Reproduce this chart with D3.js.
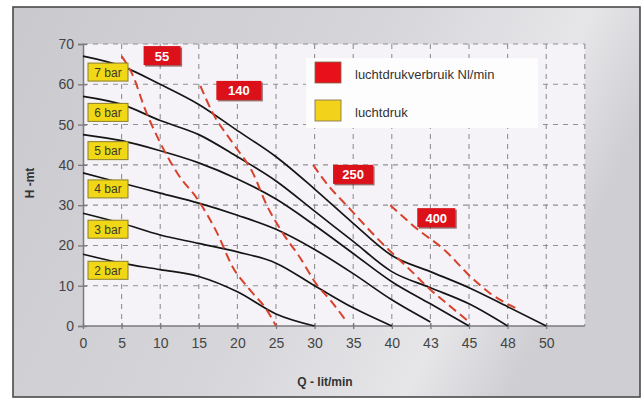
<!DOCTYPE html>
<html>
<head>
<meta charset="utf-8">
<script src="https://cdn.jsdelivr.net/npm/d3@7"></script>
<style>
  body { margin: 0; background: #fff; }
  svg { display: block; font-family: "Liberation Sans", Arial, sans-serif; }
</style>
</head>
<body>
<script>
// tick labels (the x axis is not linear: 40, 43, 45, 48, 50 sit at equal steps)
var xTicks = [0, 5, 10, 15, 20, 25, 30, 35, 40, 43, 45, 48, 50];
var yTicks = [0, 10, 20, 30, 40, 50, 60, 70];

// pump curves per air pressure: [Q, H]
var barNames = ["7 bar", "6 bar", "5 bar", "4 bar", "3 bar", "2 bar"];
var bar7 = [[0,67],[5,64.5],[10,60],[15,55],[20,48.5],[25,42],[30,34],[35,25.5],[40,17.5],[43,13.5],[45,9.5],[48,4.8],[50,0]];
var bar6 = [[0,57],[5,55],[10,51],[15,47.5],[20,42],[25,36],[30,28.5],[35,21],[40,13.5],[43,9.5],[45,5.5],[48,0]];
var bar5 = [[0,47.5],[5,46],[10,43.5],[15,40.5],[20,36.5],[25,31.5],[30,25],[35,18],[40,11],[43,5.5],[45,0]];
var bar4 = [[0,38],[5,35.5],[10,33],[15,30.5],[20,27.5],[25,24],[30,19],[35,13],[40,6.5],[43,1]];
var bar3 = [[0,28],[5,25.5],[10,22.6],[15,20.5],[20,18.4],[25,15.6],[30,10],[35,4.5],[40,0]];
var bar2 = [[0,17.8],[5,15.6],[10,14],[15,12.3],[20,8.5],[25,3],[30,0]];

// air consumption lines (Nl/min)
var airNames = ["55", "140", "250", "400"];
var air55 = [[5,67],[6.5,62],[8,54],[10,45.5],[12.2,38],[15,31],[17.4,23],[19.4,14.6],[21.6,9],[23.8,4],[25,0]];
var air140 = [[15.2,59.6],[16.8,52.9],[19.4,45.4],[22,38],[23.8,30],[25.9,23],[28.1,17],[30.3,10.2],[32,6.5],[34,1.5]];
var air250 = [[29.8,40],[31.3,36],[34.6,29],[38.5,21],[41.4,14],[43,9],[44,5],[45,1]];
var air400 = [[39.8,30],[42,24],[43.7,19],[45.2,12],[46.6,8.2],[48.4,4.5]];

var legendItems = ["luchtdrukverbruik Nl/min", "luchtdruk"];

var W = 643, H = 401;
var pLeft = 83, pTop = 44, pBottom = 326;
var step = 38.6;
var pRight = pLeft + 13 * step;

var svg = d3.select("body").append("svg")
    .attr("width", W)
    .attr("height", H);

var defs = svg.append("defs");
var grad = defs.append("linearGradient").attr("id", "bg")
    .attr("x1", 0).attr("y1", 0).attr("x2", 1).attr("y2", 0.3);
grad.append("stop").attr("offset", "0%").attr("stop-color", "#c9c9ce");
grad.append("stop").attr("offset", "55%").attr("stop-color", "#d6d6da");
grad.append("stop").attr("offset", "85%").attr("stop-color", "#e6e6e9");
grad.append("stop").attr("offset", "100%").attr("stop-color", "#cfcfd3");

svg.append("rect").attr("width", W).attr("height", H).attr("fill", "#fff");
svg.append("rect")
    .attr("x", 13).attr("y", 7).attr("width", 627).attr("height", 390)
    .attr("fill", "url(#bg)")
    .attr("stroke", "#4a4a4a").attr("stroke-width", 1.6);

var x = d3.scaleLinear()
    .domain(xTicks)
    .range(xTicks.map(function(d, i) { return pLeft + i * step; }));
var y = d3.scaleLinear().domain([0, 70]).range([pBottom, pTop]);

// plot area
svg.append("rect")
    .attr("x", pLeft).attr("y", pTop)
    .attr("width", pRight - pLeft).attr("height", pBottom - pTop)
    .attr("fill", "#f5f3f7");

var grid = svg.append("g")
    .attr("stroke", "#909094")
    .attr("stroke-width", 1.1)
    .attr("stroke-dasharray", "5,5");

grid.selectAll(".gx")
    .data(xTicks.slice(1))
    .enter().append("line")
    .attr("x1", function(d) { return x(d); })
    .attr("x2", function(d) { return x(d); })
    .attr("y1", pTop).attr("y2", pBottom);
grid.append("line").attr("x1", pRight).attr("x2", pRight).attr("y1", pTop).attr("y2", pBottom);

grid.selectAll(".gy")
    .data(yTicks.slice(1))
    .enter().append("line")
    .attr("x1", pLeft).attr("x2", pRight)
    .attr("y1", function(d) { return y(d); })
    .attr("y2", function(d) { return y(d); });

// axes
var xAxis = svg.append("g")
    .attr("transform", "translate(0," + pBottom + ")")
    .call(d3.axisBottom(x).tickValues(xTicks).tickSize(4).tickPadding(8).tickFormat(d3.format("d")));
xAxis.select(".domain").attr("d", "M" + pLeft + ",0H" + pRight);

var yAxis = svg.append("g")
    .attr("transform", "translate(" + pLeft + ",0)")
    .call(d3.axisLeft(y).tickValues(yTicks).tickSize(5).tickPadding(4));

svg.selectAll(".domain").attr("stroke", "#7a7a7e").attr("stroke-width", 1.5);
svg.selectAll(".tick line").attr("stroke", "#7a7a7e").attr("stroke-width", 1.3);
svg.selectAll(".tick text")
    .attr("fill", "#444")
    .attr("font-size", 14)
    .attr("font-family", "Liberation Sans, Arial, sans-serif");
yAxis.selectAll(".tick line").attr("x2", 4).attr("x1", -5);
xAxis.selectAll(".tick line").attr("y1", -3).attr("y2", 3);

svg.append("text")
    .attr("x", 325).attr("y", 386)
    .attr("text-anchor", "middle")
    .attr("font-size", 12).attr("font-weight", "bold").attr("fill", "#333")
    .text("Q - lit/min");
svg.append("text")
    .attr("transform", "translate(34,183) rotate(-90)")
    .attr("text-anchor", "middle")
    .attr("font-size", 12).attr("font-weight", "bold").attr("fill", "#333")
    .text("H -mt");

var line = d3.line()
    .x(function(d) { return x(d[0]); })
    .y(function(d) { return y(d[1]); })
    .curve(d3.curveMonotoneX);

// pump curves
var bars = [bar7, bar6, bar5, bar4, bar3, bar2];
svg.append("g").selectAll("path")
    .data(bars)
    .enter().append("path")
    .attr("d", line)
    .attr("fill", "none")
    .attr("stroke", "#151515")
    .attr("stroke-width", 1.7);

// air consumption lines
var airs = [air55, air140, air250, air400];
svg.append("g").selectAll("path")
    .data(airs)
    .enter().append("path")
    .attr("d", line)
    .attr("fill", "none")
    .attr("stroke", "#d8412c")
    .attr("stroke-width", 2)
    .attr("stroke-dasharray", "9,5");

// red labels beside the start of each air line
var labDx = [22, 16, 20, 27], labDy = [-10, -5, 0, 3], labW = [37, 45, 40, 38];
var redLabel = svg.append("g").selectAll("g")
    .data(airs)
    .enter().append("g")
    .attr("transform", function(d, i) {
        return "translate(" + (x(d[0][0]) + labDx[i]) + "," + (y(d[0][1]) + labDy[i]) + ")";
    });
redLabel.append("rect")
    .attr("x", 1.5).attr("y", 1.5)
    .attr("width", function(d, i) { return labW[i]; }).attr("height", 19)
    .attr("fill", "#5a1010").attr("opacity", 0.6);
redLabel.append("rect")
    .attr("width", function(d, i) { return labW[i]; }).attr("height", 19)
    .attr("fill", "#dc1018");
redLabel.append("text")
    .attr("x", function(d, i) { return labW[i] / 2; })
    .attr("y", 14.5)
    .attr("text-anchor", "middle")
    .attr("font-size", 13).attr("font-weight", "bold").attr("fill", "#fff")
    .text(function(d, i) { return airNames[i]; });

// yellow pressure labels
var yellow = svg.append("g").selectAll("g")
    .data(bars)
    .enter().append("g")
    .attr("transform", function(d) { return "translate(88," + (y(d[0][1]) + 7) + ")"; });
yellow.append("rect")
    .attr("width", 40).attr("height", 18)
    .attr("fill", "#f0d816")
    .attr("stroke", "#8a7d2a").attr("stroke-width", 1);
yellow.append("text")
    .attr("x", 20).attr("y", 13.5)
    .attr("text-anchor", "middle")
    .attr("font-size", 12).attr("fill", "#3a3a2a")
    .text(function(d, i) { return barNames[i]; });

// legend
var legend = svg.append("g");
legend.append("rect")
    .attr("x", 306).attr("y", 58).attr("width", 232).attr("height", 70)
    .attr("fill", "#fdfdfd");
var swatch = ["#e8101a", "#f2d21a"];
legend.selectAll(".sw")
    .data(legendItems)
    .enter().append("rect")
    .attr("x", 315)
    .attr("y", function(d, i) { return 62 + i * 38; })
    .attr("width", 26).attr("height", 21)
    .attr("fill", function(d, i) { return swatch[i]; })
    .attr("stroke", "#7a6a4a").attr("stroke-width", 0.8);
legend.selectAll("text")
    .data(legendItems)
    .enter().append("text")
    .attr("x", 355)
    .attr("y", function(d, i) { return 79 + i * 38; })
    .attr("font-size", 13).attr("fill", "#333")
    .text(function(d) { return d; });
</script>
</body>
</html>
